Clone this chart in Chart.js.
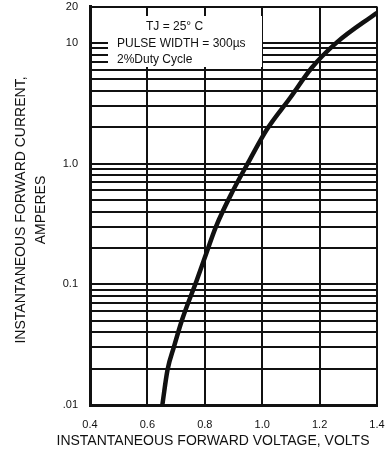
<!DOCTYPE html>
<html>
<head>
<meta charset="utf-8">
<script src="https://cdn.jsdelivr.net/npm/chart.js@4.4.1/dist/chart.umd.min.js"></script>
<style>
  body { margin: 0; background: #fff; }
  #wrap { width: 390px; height: 456px; }
</style>
</head>
<body>
<div id="wrap"><canvas id="myChart" width="390" height="456"></canvas></div>
<script>
// forward voltage (V) vs instantaneous forward current (A)
const volts = [0.652, 0.670, 0.693, 0.720, 0.772, 0.801, 0.839, 0.897, 0.957, 1.015, 1.097, 1.172, 1.26, 1.4];
const amps  = [0.01, 0.0195, 0.0306, 0.0501, 0.108, 0.169, 0.301, 0.59, 1.08, 1.9, 3.5, 6.2, 10.1, 17.8];

const xTicks = [0.4, 0.6, 0.8, 1.0, 1.2, 1.4];
const yLabels = {0.01: '.01', 0.1: '0.1', 1: '1.0', 10: '10', 20: '20'};
const yGrid = [];
[0.01, 0.1, 1].forEach(d => { for (let m = 1; m <= 9; m++) yGrid.push(+(d * m).toPrecision(3)); });
yGrid.push(10, 20);

const noteLines = ['TJ = 25\u00B0 C', 'PULSE WIDTH = 300\u00B5s', '2%Duty Cycle'];
const xTitle = 'INSTANTANEOUS FORWARD VOLTAGE, VOLTS';
const yTitle = ['INSTANTANEOUS FORWARD CURRENT,', 'AMPERES'];

const FONT = '"Liberation Sans", Arial, sans-serif';
const INK = '#111';

// white note box over the grid + axis titles
const extras = {
  id: 'extras',
  beforeDatasetsDraw(chart) {
    const c = chart.ctx;
    c.save();
    c.fillStyle = '#fff';
    c.fillRect(108, 16, 154, 51);
    c.fillStyle = INK;
    c.font = '12px ' + FONT;
    c.textBaseline = 'middle';
    c.fillText(noteLines[0], 146, 27);
    c.fillText(noteLines[1], 117, 44);
    c.fillText(noteLines[2], 117, 60);
    c.restore();
  },
  afterDraw(chart) {
    const c = chart.ctx;
    c.save();
    c.fillStyle = INK;
    c.font = '14px ' + FONT;
    c.textAlign = 'center';
    c.textBaseline = 'middle';
    c.fillText(xTitle, 213, 441);
    c.rotate(-Math.PI / 2);
    c.fillText(yTitle[0], -210, 21);
    c.fillText(yTitle[1], -210, 41);
    c.restore();
  }
};

let myChart = new Chart(document.getElementById('myChart').getContext('2d'), {
  type: 'scatter',
  data: {
    datasets: [{
      data: volts.map((v, i) => ({x: v, y: amps[i]})),
      showLine: true,
      borderColor: INK,
      borderWidth: 4.5,
      pointRadius: 0,
      cubicInterpolationMode: 'monotone',
      fill: false
    }]
  },
  options: {
    responsive: false,
    animation: false,
    layout: { padding: { top: 6, right: 13, left: 0, bottom: 0 } },
    plugins: { legend: { display: false }, tooltip: { enabled: false } },
    scales: {
      x: {
        type: 'linear',
        min: 0.4, max: 1.4,
        afterBuildTicks: s => { s.ticks = xTicks.map(v => ({value: v})); },
        afterFit: s => { s.height = 51; },
        grid: { color: INK, lineWidth: 2, drawTicks: true, tickLength: 13, tickColor: 'rgba(0,0,0,0)' },
        border: { color: INK, width: 3 },
        ticks: {
          padding: 0,
          color: INK,
          font: { family: FONT, size: 11 },
          callback: v => v.toFixed(1)
        }
      },
      y: {
        type: 'logarithmic',
        min: 0.01, max: 20,
        afterBuildTicks: s => { s.ticks = yGrid.map(v => ({value: v})); },
        afterFit: s => { s.width = 90; },
        grid: { color: INK, lineWidth: 2, drawTicks: true, tickLength: 12, tickColor: 'rgba(0,0,0,0)' },
        border: { color: INK, width: 3 },
        ticks: {
          padding: 0,
          color: INK,
          font: { family: FONT, size: 11 },
          autoSkip: false,
          callback: v => yLabels[v] || ''
        }
      }
    }
  },
  plugins: [extras]
});
</script>
</body>
</html>
